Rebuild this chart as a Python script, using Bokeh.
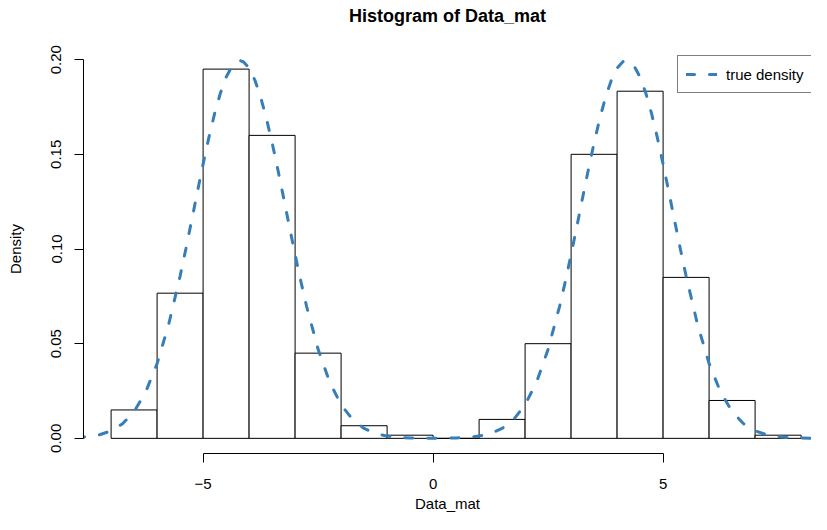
from bokeh.plotting import figure
from bokeh.models import Range1d, FixedTicker, NumeralTickFormatter, LinearAxis
from bokeh.embed import file_html
from bokeh.resources import INLINE

# Histogram bins (width 1) and densities (counts / 600)
bin_left = [-7, -6, -5, -4, -3, -2, -1, 0, 1, 2, 3, 4, 5, 6, 7]
bin_right = [-6, -5, -4, -3, -2, -1, 0, 1, 2, 3, 4, 5, 6, 7, 8]
density = [0.015, 0.07667, 0.195, 0.16, 0.045, 0.00667, 0.00167, 0.0,
           0.01, 0.05, 0.15, 0.18333, 0.085, 0.02, 0.00167]

# True density curve
curve_x = [-7.75, -7.5, -7.25, -7.0, -6.75, -6.5, -6.25, -6.0, -5.75, -5.5,
           -5.375, -5.25, -5.125, -5.0, -4.875, -4.75, -4.625, -4.5, -4.375,
           -4.25, -4.2, -4.125, -4.0, -3.875, -3.75, -3.625, -3.5, -3.375,
           -3.25, -3.125, -3.0, -2.875, -2.75, -2.5, -2.25, -2.0, -1.75, -1.5,
           -1.25, -1.0, -0.75, -0.5, -0.25, 0.0, 0.25, 0.5, 0.75, 1.0, 1.25,
           1.5, 1.75, 2.0, 2.25, 2.5, 2.75, 2.875, 3.0, 3.125, 3.25, 3.375,
           3.5, 3.625, 3.75, 3.875, 4.0, 4.125, 4.2, 4.25, 4.375, 4.5, 4.625,
           4.75, 4.875, 5.0, 5.125, 5.25, 5.375, 5.5, 5.75, 6.0, 6.25, 6.5,
           6.75, 7.0, 7.25, 7.5, 7.75, 8.0, 8.25, 8.5]
curve_y = [0.00037, 0.00086, 0.00190, 0.00396, 0.00773, 0.01416, 0.02440,
           0.03948, 0.06001, 0.08569, 0.10002, 0.11494, 0.13005, 0.14484,
           0.15884, 0.17147, 0.18225, 0.19069, 0.19644, 0.19922, 0.19947,
           0.19891, 0.19552, 0.18921, 0.18026, 0.16908, 0.15613, 0.14193,
           0.12703, 0.11193, 0.09709, 0.08292, 0.06972, 0.04703, 0.02980,
           0.01774, 0.00992, 0.00521, 0.00257, 0.00119, 0.00052, 0.00021,
           0.00008, 0.00006, 0.00008, 0.00021, 0.00052, 0.00119, 0.00257,
           0.00521, 0.00992, 0.01774, 0.02980, 0.04703, 0.06972, 0.08292,
           0.09709, 0.11193, 0.12703, 0.14193, 0.15613, 0.16908, 0.18026,
           0.18921, 0.19552, 0.19891, 0.19947, 0.19922, 0.19644, 0.19069,
           0.18225, 0.17147, 0.15884, 0.14484, 0.13005, 0.11494, 0.10002,
           0.08569, 0.06001, 0.03948, 0.02440, 0.01416, 0.00773, 0.00396,
           0.00190, 0.00086, 0.00037, 0.00015, 0.00005, 0.00002]

x_ticks = [-5, 0, 5]
x_tick_labels = {-5: "\u22125", 0: "0", 5: "5"}
y_ticks = [0.0, 0.05, 0.10, 0.15, 0.20]
title_text = "Histogram of Data_mat"

FONT = "Liberation Sans"

p = figure(width=811, height=514, output_backend="svg", toolbar_location=None,
           x_range=Range1d(-7.6, 8.226), y_range=Range1d(-0.008, 0.208),
           min_border_left=83, min_border_right=0, min_border_top=44,
           min_border_bottom=61)

p.outline_line_color = None
p.xgrid.visible = False
p.ygrid.visible = False
p.background_fill_color = "white"
p.border_fill_color = "white"

p.quad(left=bin_left, right=bin_right, bottom=0, top=density,
       fill_color="white", line_color="black", line_width=1)

p.line(curve_x, curve_y, line_color="#377EB8", line_width=3,
       line_dash="8 15", line_cap="round", legend_label="true density")

xa = p.below[0]
ya = p.left[0]

for ax in (xa, ya):
    ax.axis_line_color = "black"
    ax.major_tick_line_color = "black"
    ax.major_tick_out = 9
    ax.major_tick_in = 0
    ax.minor_tick_out = 0
    ax.minor_tick_in = 0
    ax.major_label_text_font = FONT
    ax.major_label_text_font_size = "15px"
    ax.major_label_text_color = "black"
    ax.axis_label_text_font = FONT
    ax.axis_label_text_font_size = "15px"
    ax.axis_label_text_font_style = "normal"
    ax.axis_label_text_color = "black"

xa.ticker = FixedTicker(ticks=x_ticks)
xa.bounds = (-5, 5)
xa.major_label_overrides = x_tick_labels
xa.major_label_standoff = 16
xa.axis_label = "Data_mat"
xa.axis_label_standoff = 3

ya.ticker = FixedTicker(ticks=y_ticks)
ya.bounds = (0, 0.2)
ya.formatter = NumeralTickFormatter(format="0.00")
ya.major_label_orientation = "vertical"
ya.major_label_standoff = 13
ya.axis_label = "Density"
ya.axis_label_standoff = 25

# Title drawn as the label of a bare axis above the frame
title_axis = LinearAxis(ticker=FixedTicker(ticks=[]), axis_label=title_text,
                        axis_line_color=None, major_tick_line_color=None,
                        minor_tick_line_color=None, major_tick_out=0,
                        major_tick_in=0, minor_tick_out=0, minor_tick_in=0,
                        axis_label_standoff=19, axis_label_text_font=FONT,
                        axis_label_text_font_size="18px",
                        axis_label_text_font_style="bold",
                        axis_label_text_color="black")
p.add_layout(title_axis, "above")

lg = p.legend[0]
lg.location = (594, 360)
lg.border_line_color = "black"
lg.border_line_width = 1
lg.background_fill_color = "white"
lg.background_fill_alpha = 1
lg.label_text_font = FONT
lg.label_text_font_size = "15px"
lg.label_text_color = "black"
lg.glyph_width = 31
lg.label_standoff = 9
lg.padding = 8
lg.margin = 0

open("out.html", "w").write(file_html(p, INLINE))
